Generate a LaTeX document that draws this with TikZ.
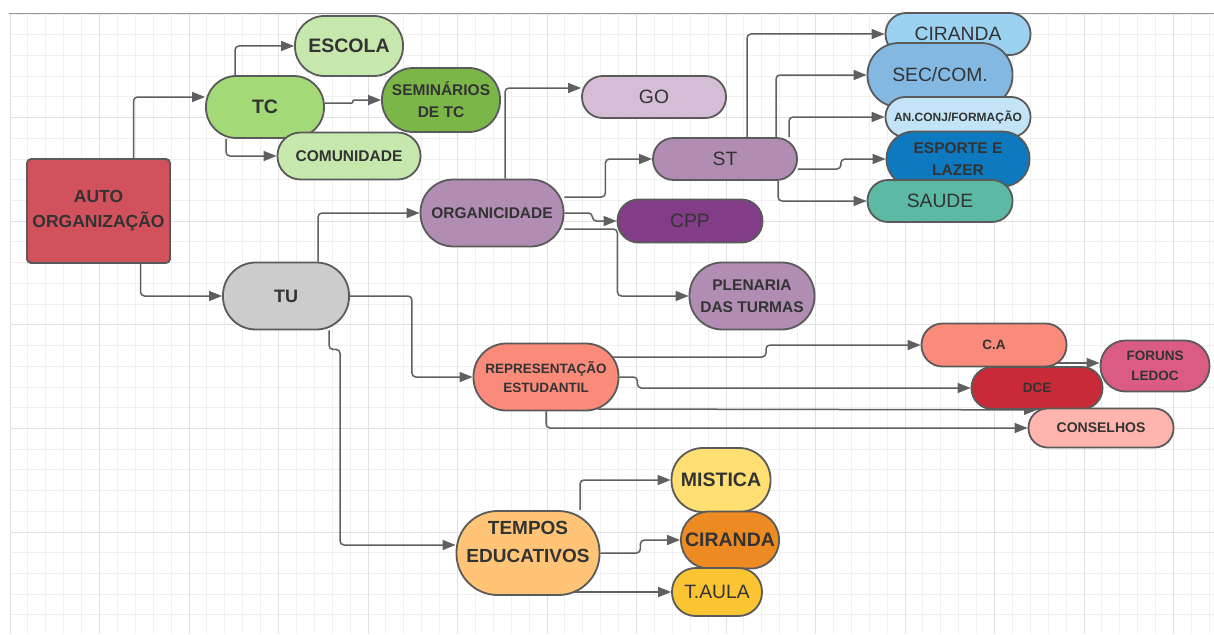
\documentclass[tikz,border=0pt]{standalone}
\usepackage{fontspec}
\setmainfont{Liberation Sans}
\usepackage{xcolor}
\usepackage{tikz}
\usetikzlibrary{arrows.meta}
\pgfdeclarelayer{gridlayer}
\pgfdeclarelayer{linelayer}
\pgfsetlayers{gridlayer,linelayer,main}
\definecolor{autored}{RGB}{209,82,92}
\definecolor{tcgreen}{RGB}{163,217,119}
\definecolor{palegreen}{RGB}{199,232,172}
\definecolor{semgreen}{RGB}{122,182,72}
\definecolor{tugray}{RGB}{204,204,204}
\definecolor{purplemid}{RGB}{177,141,180}
\definecolor{purplelight}{RGB}{213,189,214}
\definecolor{purpledark}{RGB}{131,60,135}
\definecolor{skyblue}{RGB}{155,210,242}
\definecolor{midblue}{RGB}{131,184,226}
\definecolor{paleblue}{RGB}{194,228,246}
\definecolor{deepblue}{RGB}{14,121,190}
\definecolor{saudeteal}{RGB}{91,185,164}
\definecolor{salmon}{RGB}{250,138,122}
\definecolor{dcered}{RGB}{200,42,55}
\definecolor{rosepink}{RGB}{218,92,130}
\definecolor{palesalmon}{RGB}{255,181,173}
\definecolor{peach}{RGB}{255,196,118}
\definecolor{yellowlt}{RGB}{255,223,113}
\definecolor{cirorange}{RGB}{238,138,34}
\definecolor{amber}{RGB}{250,196,50}
\definecolor{bordergray}{RGB}{90,90,90}
\definecolor{linegray}{RGB}{95,95,95}
\definecolor{txtgray}{RGB}{51,51,51}
\definecolor{gridminor}{RGB}{240,240,240}
\definecolor{gridmajor}{RGB}{224,224,224}
\definecolor{topline}{RGB}{150,150,150}
\tikzset{
pillnode/.style 2 args={rectangle, draw=bordergray, line width=1.8pt, text=txtgray, align=center, inner sep=0pt, minimum width=#1, minimum height=#2, rounded corners=0.49*#2},
boxnode/.style 2 args={rectangle, draw=bordergray, line width=1.8pt, text=txtgray, align=center, inner sep=0pt, minimum width=#1, minimum height=#2, rounded corners=4pt},
conn/.style={draw=linegray, line width=1.5pt, rounded corners=4pt, -{Triangle[length=13pt,width=10pt]}},
fbig/.style={font=\fontsize{19.3}{23}\selectfont},
fbigb/.style={font=\fontsize{19.5}{27}\selectfont\bfseries},
fmidb/.style={font=\fontsize{15.5}{22}\selectfont\bfseries},
fsmallb/.style={font=\fontsize{13.5}{19.5}\selectfont\bfseries},
}

\begin{document}
\begin{tikzpicture}[x=1pt,y=-1pt]
\useasboundingbox (0,0) rectangle (1214,634);
%grid
\begin{pgfonlayer}{gridlayer}
\fill[white] (0,0) rectangle (1214,634);
\foreach \i in {0,...,67} \draw[gridminor, line width=0.9pt] (10+17.9*\i,14) -- (10+17.9*\i,634);
\foreach \j in {0,...,29} \draw[gridminor, line width=0.9pt] (10,14+20.72*\j) -- (1214,14+20.72*\j);
\foreach \i in {0,...,13} \draw[gridmajor, line width=0.9pt] (10+89.5*\i,14) -- (10+89.5*\i,634);
\foreach \j in {1,...,5} \draw[gridmajor, line width=0.9pt] (10,14+103.6*\j) -- (1214,14+103.6*\j);
\draw[topline, line width=1.2pt] (9,13.5) -- (1214,13.5);
\end{pgfonlayer}

\node[boxnode={143pt}{104pt}, fill=autored, font=\fontsize{17.5}{25}\selectfont\bfseries] at (98.5,211) (auto) {AUTO\\ORGANIZAÇÃO};
\node[pillnode={108pt}{60pt}, fill=palegreen, fbigb] at (349,46) (escola) {ESCOLA};
\node[pillnode={118pt}{62pt}, fill=tcgreen, fbigb] at (265,107) (tc) {TC};
\node[pillnode={118pt}{64pt}, fill=semgreen, fmidb] at (441,100) (sem) {SEMINÁRIOS\\DE TC};
\node[pillnode={143pt}{47pt}, fill=palegreen, fmidb] at (349,156) (com) {COMUNIDADE};
\node[pillnode={126pt}{67pt}, fill=tugray, font=\fontsize{18}{22}\selectfont\bfseries] at (286,296) (tu) {TU};

\node[pillnode={143pt}{67pt}, fill=purplemid, fmidb] at (492,213) (org) {ORGANICIDADE};
\node[pillnode={144pt}{42pt}, fill=purplelight, fbig] at (654,97) (go) {GO};
\node[pillnode={144pt}{42pt}, fill=purplemid, fbig] at (725,159) (st) {ST};
\node[pillnode={145pt}{43pt}, fill=purpledark, fbig] at (690,221) (cpp) {CPP};
\node[pillnode={125pt}{67pt}, fill=purplemid, fmidb] at (752,296) (plen) {PLENARIA\\DAS TURMAS};

\node[pillnode={145pt}{42pt}, fill=skyblue, fbig] at (958,34) (cirA) {CIRANDA};
\node[pillnode={145pt}{64pt}, fill=midblue, fbig] at (940,75) (sec) {SEC/COM.};
\node[pillnode={145pt}{40pt}, fill=paleblue, font=\fontsize{12}{14}\selectfont\bfseries] at (958,117) (anc) {AN.CONJ/FORMAÇÃO};
\node[pillnode={143pt}{55pt}, fill=deepblue, fmidb] at (958,159) (esp) {ESPORTE E\\LAZER};
\node[pillnode={145pt}{42pt}, fill=saudeteal, fbig] at (940,201) (sau) {SAUDE};

\node[pillnode={145pt}{67pt}, fill=salmon, fsmallb] at (546,377) (repr) {REPRESENTAÇÃO\\ESTUDANTIL};
\node[pillnode={145pt}{43pt}, fill=salmon, fsmallb] at (994,345) (ca) {C.A};
\node[pillnode={131pt}{42pt}, fill=dcered, fsmallb] at (1037,388) (dce) {DCE};
\node[pillnode={109pt}{51pt}, fill=rosepink, fsmallb] at (1155,366) (forums) {FORUNS\\LEDOC};
\node[pillnode={145pt}{39pt}, fill=palesalmon, font=\fontsize{14}{17}\selectfont\bfseries] at (1101,428) (cons) {CONSELHOS};

\node[pillnode={143pt}{84pt}, fill=peach] at (528,553) (temp) [label={[yshift=11pt, align=center, text=txtgray, font=\fontsize{19}{28}\selectfont\bfseries]center:TEMPOS\\EDUCATIVOS}] {};
\node[pillnode={99pt}{64pt}, fill=yellowlt, fbigb] at (721,480) (mist) {MISTICA};
\node[pillnode={98pt}{57pt}, fill=cirorange, fbigb] at (730,540) (cirB) {CIRANDA};
\node[pillnode={90pt}{48pt}, fill=amber, fbig] at (717,592) (taula) {T.AULA};

\coordinate (fin) at ([yshift=3pt]forums.west);

%connectors
\begin{pgfonlayer}{linelayer}
\draw[conn] ([xshift=35pt]auto.north) |- ([yshift=10pt]tc.west);
\draw[conn] ([xshift=42pt]auto.south) |- (tu.west);
\draw[conn] ([xshift=-30pt]tc.north) |- (escola.west);
\draw[conn, rounded corners=1pt] ([yshift=4pt]tc.east) -- ++(28pt,0pt) |- (sem.west);
\draw[conn] ([xshift=-39pt]tc.south) |- (com.west);
\draw[conn] ([xshift=32pt]tu.north) |- (org.west);
\draw[conn] (tu.east) -- ++(62pt,0pt) |- (repr.west);
\draw[conn] ([xshift=43pt]tu.south) -- ++(0pt,-19pt) -- ++(11pt,0pt) |- ([yshift=8pt]temp.west);
\draw[conn] ([xshift=13pt]org.north) |- ([yshift=9pt]go.west);
\draw[conn] ([yshift=16pt]org.east) -- ++(41pt,0pt) |- (st.west);
\draw[conn] (org.east) -- ++(28pt,0pt) |- (cpp.west);
\draw[conn] ([yshift=-16pt]org.east) -- ++(53pt,0pt) |- (plen.west);
\draw[conn] ([xshift=22pt]st.north) |- (cirA.west);
\draw[conn] ([xshift=51pt]st.north) |- (sec.west);
\draw[conn] ([xshift=64pt]st.north) |- (anc.west);
\draw[conn] ([yshift=-10pt]st.east) -- ++(43pt,0pt) |- (esp.west);
\draw[conn] ([xshift=53pt]st.south) |- (sau.west);
\draw[conn] ([yshift=20pt]repr.center) -- ++(220pt,0pt) |- (ca.west);
\draw[conn] (repr.east) -- ++(18pt,0pt) |- (dce.west);
\draw[conn] ([xshift=52pt,yshift=-32pt]repr.center) -- (dce.south);
\draw[conn] (ca.center |- fin) -- (fin);
\draw[conn] (repr.south) |- (cons.west);
\draw[conn] ([xshift=52pt]temp.north) |- (mist.west);
\draw[conn] (temp.east) -- ++(40pt,0pt) |- (cirB.west);
\draw[conn] ([yshift=-39pt]temp.center) -- (taula.west);
\end{pgfonlayer}
\end{tikzpicture}
\end{document}
